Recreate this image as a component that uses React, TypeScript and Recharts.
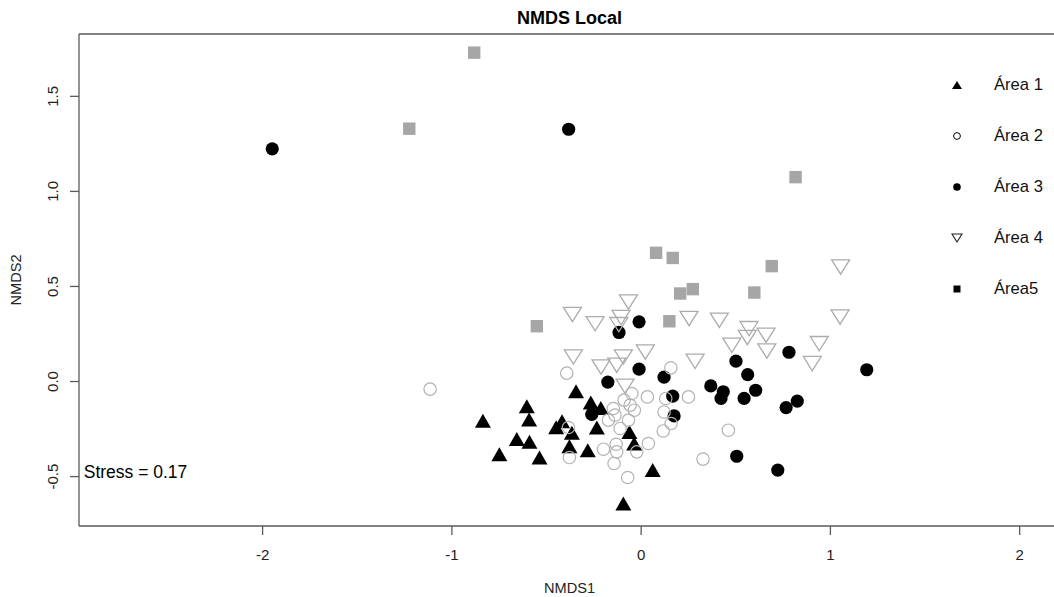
import {
  ScatterChart,
  Scatter,
  XAxis,
  YAxis,
  ReferenceLine,
  ReferenceDot,
  Legend,
} from "recharts";

const FONT = "'Liberation Sans', Arial, Helvetica, sans-serif";

// axis ranges as drawn in the original R plot (right side of the frame is cut off)
const X_MIN = -2.97;
const X_MAX = 2.213;
const Y_MIN = -0.76;
const Y_MAX = 1.828;
const xTicks = [-2, -1, 0, 1, 2];
const yTicks = [-0.5, 0, 0.5, 1, 1.5];

const chartTitle = "NMDS Local";
const xTitle = "NMDS1";
const yTitle = "NMDS2";
const stressText = "Stress = 0.17";
const stressPos = { x: -2.945, y: -0.475 };
const legendNames = ["Área 1", "Área 2", "Área 3", "Área 4", "Área5"];

// [NMDS1, NMDS2]
const area1: [number, number][] = [
  [-0.836, -0.207], [-0.604, -0.13], [-0.592, -0.2], [-0.657, -0.303],
  [-0.59, -0.317], [-0.749, -0.382], [-0.537, -0.4], [-0.344, -0.051],
  [-0.266, -0.11], [-0.213, -0.139], [-0.449, -0.24], [-0.418, -0.209],
  [-0.234, -0.242], [-0.366, -0.27], [-0.379, -0.34], [-0.282, -0.361],
  [-0.062, -0.265], [-0.037, -0.326], [0.061, -0.466], [-0.094, -0.642],
];

const area2: [number, number][] = [
  [-1.115, -0.04], [-0.393, 0.044], [0.157, 0.072], [0.033, -0.081],
  [0.25, -0.081], [0.13, -0.089], [-0.049, -0.063], [-0.058, -0.124],
  [-0.036, -0.151], [-0.147, -0.142], [-0.138, -0.177], [-0.173, -0.203],
  [-0.111, -0.247], [-0.067, -0.203], [0.121, -0.16], [0.158, -0.221],
  [0.117, -0.26], [-0.384, -0.242], [-0.199, -0.356], [-0.132, -0.33],
  [-0.129, -0.37], [-0.023, -0.37], [0.038, -0.326], [-0.379, -0.4],
  [-0.143, -0.431], [-0.071, -0.505], [0.327, -0.408], [0.461, -0.256],
  [-0.09, -0.098],
];

const area3: [number, number][] = [
  [-1.949, 1.224], [-0.383, 1.327], [-0.011, 0.314], [-0.117, 0.258],
  [-0.011, 0.065], [0.121, 0.023], [-0.176, -0.003], [0.368, -0.023],
  [0.434, -0.054], [0.422, -0.089], [0.167, -0.077], [0.174, -0.181],
  [-0.261, -0.173], [0.544, -0.089], [0.605, -0.046], [0.563, 0.036],
  [0.501, 0.107], [0.781, 0.154], [1.192, 0.062], [0.766, -0.137],
  [0.825, -0.103], [0.505, -0.393], [0.722, -0.466],
];

const area4: [number, number][] = [
  [-0.067, 0.419], [-0.363, 0.353], [-0.243, 0.305], [-0.106, 0.337],
  [-0.118, 0.3], [0.253, 0.332], [0.413, 0.323], [-0.358, 0.13],
  [-0.212, 0.077], [-0.129, 0.086], [-0.094, 0.13], [0.022, 0.156],
  [0.285, 0.107], [-0.085, -0.024], [1.054, 0.603], [1.051, 0.34],
  [0.57, 0.279], [0.561, 0.232], [0.66, 0.244], [0.479, 0.191],
  [0.664, 0.161], [0.941, 0.2], [0.904, 0.095],
];

const area5: [number, number][] = [
  [-1.225, 1.33], [-0.882, 1.73], [0.816, 1.075], [-0.551, 0.291],
  [0.079, 0.677], [0.167, 0.65], [0.206, 0.463], [0.273, 0.486],
  [0.149, 0.317], [0.69, 0.607], [0.598, 0.468],
];

const toPoints = (rows: [number, number][]) => rows.map(([x, y]) => ({ x, y }));

const AXIS_COLOR = "#5a5a5a";
const GREY_FILL = "#a6a6a6";
const GREY_LINE = "#acacac";

const FilledTriangle = ({ cx, cy }: any) => (
  <polygon points={`${cx},${cy - 7} ${cx + 8},${cy + 7} ${cx - 8},${cy + 7}`} fill="#000" />
);
const OpenCircle = ({ cx, cy }: any) => (
  <circle cx={cx} cy={cy} r={6.2} fill="none" stroke="#b3b3b3" strokeWidth={1.2} />
);
const FilledCircle = ({ cx, cy }: any) => <circle cx={cx} cy={cy} r={6.6} fill="#000" />;
const OpenDownTriangle = ({ cx, cy }: any) => (
  <polygon
    points={`${cx - 9},${cy - 7} ${cx + 9},${cy - 7} ${cx},${cy + 7.3}`}
    fill="none"
    stroke={GREY_LINE}
    strokeWidth={1.3}
  />
);
const GreySquare = ({ cx, cy }: any) => (
  <rect x={cx - 6.2} y={cy - 6.2} width={12.4} height={12.4} fill={GREY_FILL} />
);

const legendIcon = (i: number) => {
  switch (i) {
    case 0:
      return <polygon points="10,6 15,14 5,14" fill="#000" />;
    case 1:
      return <circle cx={10} cy={10} r={3.4} fill="none" stroke="#000" strokeWidth={1} />;
    case 2:
      return <circle cx={10} cy={10} r={3.8} fill="#000" />;
    case 3:
      return <polygon points="5,6 15,6 10,14" fill="none" stroke="#222" strokeWidth={1.1} />;
    default:
      return <rect x={6.5} y={6.5} width={7} height={7} fill="#000" />;
  }
};

const LegendBox = () => (
  <div style={{ fontFamily: FONT, fontSize: 16.6, color: "#111" }}>
    {legendNames.map((name, i) => (
      <div key={name} style={{ display: "flex", alignItems: "center", height: 51 }}>
        <svg width={20} height={20}>{legendIcon(i)}</svg>
        <span style={{ marginLeft: 27, whiteSpace: "nowrap" }}>{name}</span>
      </div>
    ))}
  </div>
);

const YTick = ({ x, y, payload }: any) => {
  const tx = x - 12;
  return (
    <text
      x={tx}
      y={y}
      transform={`rotate(-90 ${tx} ${y})`}
      textAnchor="middle"
      fill="#222"
      fontSize={15}
      fontFamily={FONT}
    >
      {Number(payload.value).toFixed(1)}
    </text>
  );
};

const YTitle = ({ viewBox }: any) => {
  const tx = viewBox.x + 21.2;
  const ty = viewBox.y + viewBox.height / 2;
  return (
    <text
      x={tx}
      y={ty}
      transform={`rotate(-90 ${tx} ${ty})`}
      textAnchor="middle"
      fill="#222"
      fontSize={14.6}
      fontFamily={FONT}
    >
      {yTitle}
    </text>
  );
};

const XTitle = ({ viewBox }: any) => (
  <text
    x={viewBox.x + viewBox.width / 2}
    y={viewBox.y + 67}
    textAnchor="middle"
    fill="#222"
    fontSize={14.6}
    fontFamily={FONT}
  >
    {xTitle}
  </text>
);

const TitleLabel = ({ viewBox }: any) => (
  <text
    x={viewBox.x + viewBox.width / 2}
    y={viewBox.y - 10.4}
    textAnchor="middle"
    fill="#000"
    fontSize={18}
    fontWeight="bold"
    fontFamily={FONT}
  >
    {chartTitle}
  </text>
);

const StressLabel = ({ cx, cy }: any) => (
  <text x={cx} y={cy + 6.3} fill="#000" fontSize={17.5} fontFamily={FONT}>
    {stressText}
  </text>
);

export default function App() {
  return (
    <div
      style={{
        position: "absolute",
        left: 0,
        top: 0,
        width: 1054,
        height: 597,
        overflow: "hidden",
        background: "#fff",
      }}
    >
      <ScatterChart width={1070} height={597} margin={{ top: 34, right: 10, bottom: 0, left: 0 }}>
        <XAxis
          type="number"
          dataKey="x"
          domain={[X_MIN, X_MAX]}
          ticks={xTicks}
          allowDataOverflow
          height={71}
          tickSize={9}
          tickMargin={14}
          stroke={AXIS_COLOR}
          strokeWidth={1.3}
          tick={{ fill: "#222", fontSize: 15, fontFamily: FONT }}
          label={<XTitle />}
        />
        <YAxis
          type="number"
          dataKey="y"
          domain={[Y_MIN, Y_MAX]}
          ticks={yTicks}
          allowDataOverflow
          width={79}
          tickSize={9}
          tickMargin={0}
          stroke={AXIS_COLOR}
          strokeWidth={1.3}
          tick={<YTick />}
          label={<YTitle />}
        />
        <ReferenceLine y={Y_MAX} stroke={AXIS_COLOR} strokeWidth={1.3} label={<TitleLabel />} />
        <Scatter name={legendNames[0]} data={toPoints(area1)} shape={<FilledTriangle />} isAnimationActive={false} />
        <Scatter name={legendNames[2]} data={toPoints(area3)} shape={<FilledCircle />} isAnimationActive={false} />
        <Scatter name={legendNames[1]} data={toPoints(area2)} shape={<OpenCircle />} isAnimationActive={false} />
        <Scatter name={legendNames[3]} data={toPoints(area4)} shape={<OpenDownTriangle />} isAnimationActive={false} />
        <Scatter name={legendNames[4]} data={toPoints(area5)} shape={<GreySquare />} isAnimationActive={false} />
        <ReferenceDot x={stressPos.x} y={stressPos.y} shape={<StressLabel />} />
        <Legend
          layout="vertical"
          align="center"
          verticalAlign="middle"
          content={<LegendBox />}
          wrapperStyle={{ left: 947, top: 59, width: 110 }}
        />
      </ScatterChart>
    </div>
  );
}
